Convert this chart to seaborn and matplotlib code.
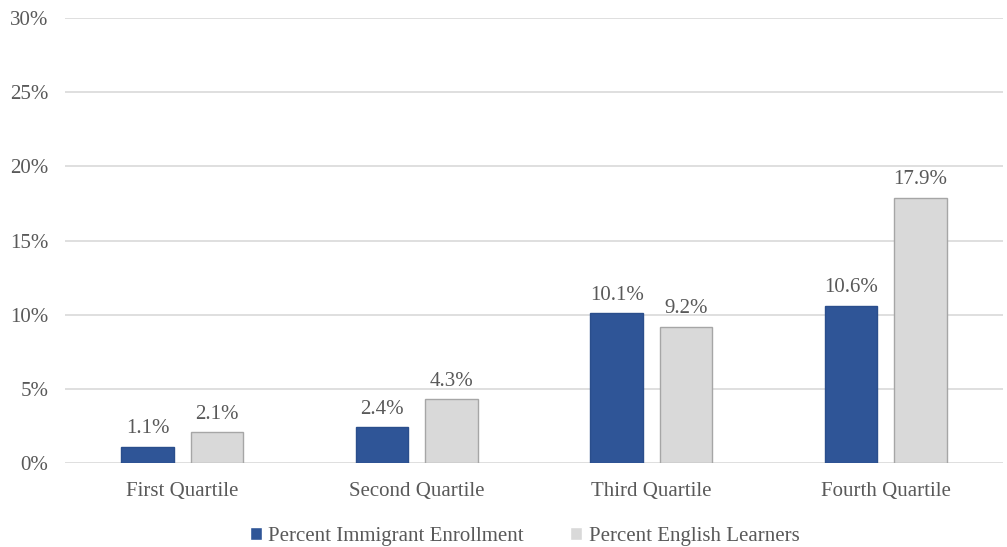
import matplotlib
matplotlib.use("Agg")
import matplotlib.pyplot as plt
import pandas as pd
import seaborn as sns

quartiles = ["First Quartile", "Second Quartile", "Third Quartile", "Fourth Quartile"]
series_names = ["Percent Immigrant Enrollment", "Percent English Learners"]
immigrant_pct = [1.1, 2.4, 10.1, 10.6]
english_learners_pct = [2.1, 4.3, 9.2, 17.9]
y_ticks = [0, 5, 10, 15, 20, 25, 30]

text_color = "#595959"
grid_color = "#D9D9D9"
font_size = 15


def main() -> None:
    df = pd.DataFrame({
        "quartile": quartiles * 2,
        "series": [series_names[0]] * 4 + [series_names[1]] * 4,
        "value": immigrant_pct + english_learners_pct,
    })

    sns.set_style("white")
    plt.rcParams["font.family"] = ["Liberation Serif", "DejaVu Serif"]

    fig = plt.figure(figsize=(10.07, 5.47), dpi=100)
    ax = fig.add_axes([0.0645, 0.1536, 0.9315, 0.8134])

    palette = {series_names[0]: "#2F5597", series_names[1]: "#D9D9D9"}
    sns.barplot(data=df, x="quartile", y="value", hue="series", order=quartiles,
                hue_order=series_names, palette=palette, width=0.59, gap=0.24,
                saturation=1, ax=ax, legend=True)

    # edges: dark blue for the first series, grey outline for the second
    for container, edge in zip(ax.containers, ["#2A4E8C", "#A6A6A6"]):
        for bar in container:
            bar.set_edgecolor(edge)
            bar.set_linewidth(1.0)
        ax.bar_label(container, labels=[f"{v:.1f}%" for v in container.datavalues],
                     padding=6, fontsize=font_size, color=text_color)

    ax.set_ylim(0, 30)
    ax.set_xlim(-0.5, 3.5)
    ax.set_yticks(y_ticks)
    ax.set_yticklabels([f"{t}%" for t in y_ticks])
    ax.yaxis.grid(True, color=grid_color, linewidth=1.2)
    ax.set_axisbelow(True)
    for side in ["top", "right", "left", "bottom"]:
        ax.spines[side].set_visible(False)
    ax.tick_params(axis="both", length=0, labelsize=font_size, colors=text_color)
    ax.tick_params(axis="x", pad=14)
    ax.tick_params(axis="y", pad=12)
    ax.set_xlabel("")
    ax.set_ylabel("")

    handles, labels = ax.get_legend_handles_labels()
    ax.legend(handles, labels, loc="center", bbox_to_anchor=(0.49, -0.165),
              ncol=2, frameon=False, fontsize=font_size, labelcolor=text_color,
              handlelength=0.6, handleheight=0.6, handletextpad=0.3, columnspacing=2.2,
              borderpad=0.1)

    fig.savefig("out.png", dpi=100)


if __name__ == "__main__":
    main()
